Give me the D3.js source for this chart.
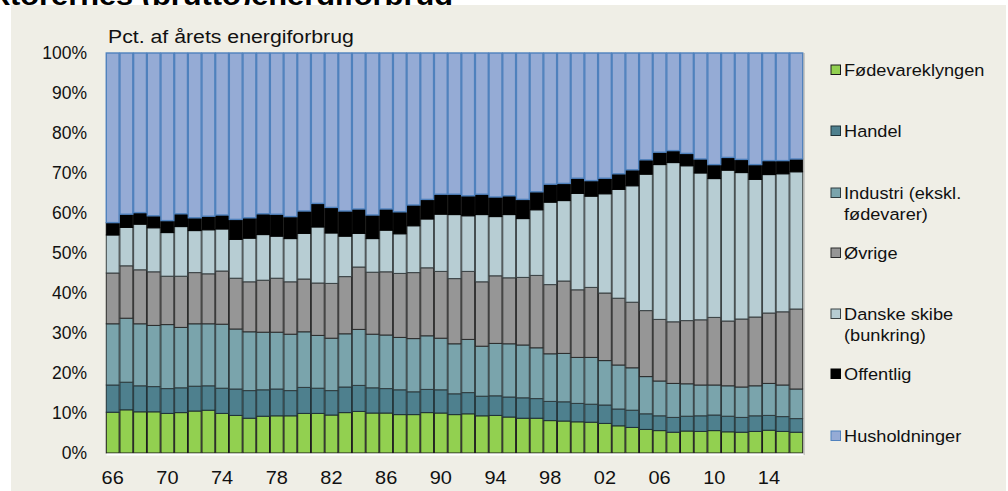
<!DOCTYPE html>
<html><head><meta charset="utf-8">
<script src="https://cdn.jsdelivr.net/npm/d3@7"></script>
<style>
html,body{margin:0;padding:0;background:#fff;}
svg{display:block;font-family:"Liberation Sans",Arial,sans-serif;}
</style></head>
<body>
<svg id="chart" width="1008" height="491"></svg>
<script>
const years = [1966,1967,1968,1969,1970,1971,1972,1973,1974,1975,1976,1977,1978,1979,1980,1981,1982,1983,1984,1985,1986,1987,1988,1989,1990,1991,1992,1993,1994,1995,1996,1997,1998,1999,2000,2001,2002,2003,2004,2005,2006,2007,2008,2009,2010,2011,2012,2013,2014,2015,2016];
const xTickYears = [1966,1970,1974,1978,1982,1986,1990,1994,1998,2002,2006,2010,2014];
const yTicks = [0,0.1,0.2,0.3,0.4,0.5,0.6,0.7,0.8,0.9,1];
const seriesNames = ["Fødevareklyngen","Handel","Industri (ekskl. fødevarer)","Øvrige","Danske skibe (bunkring)","Offentlig","Husholdninger"];

const foedevare = [10.2,10.8,10.3,10.3,9.9,10.1,10.5,10.7,9.9,9.4,8.7,9.2,9.3,9.3,9.9,9.9,9.5,10.1,10.4,10.0,10.0,9.6,9.6,10.1,10.0,9.6,9.8,9.3,9.4,9.0,8.7,8.7,8.1,8.0,7.8,7.7,7.4,6.8,6.4,5.9,5.6,5.2,5.5,5.4,5.6,5.3,5.2,5.4,5.7,5.4,5.2];
const handel = [6.8,6.9,6.5,6.3,6.2,6.2,6.2,6.1,6.3,6.6,6.9,6.6,6.7,6.3,6.5,6.3,6.1,6.4,6.5,6.3,6.1,6.2,5.7,5.8,5.8,5.2,5.3,4.9,4.9,5.0,5.1,4.9,4.8,4.8,4.6,4.5,4.6,4.2,4.3,3.9,3.7,3.7,3.7,3.9,3.9,3.9,3.7,3.9,3.7,3.7,3.4];
const industri = [15.3,16.0,15.5,15.3,16.0,15.1,15.6,15.5,16.0,15.0,14.7,14.4,14.2,14.1,13.9,13.2,13.1,13.3,14.0,13.4,13.4,13.1,13.3,13.4,12.9,12.5,13.3,12.5,13.1,13.3,13.2,12.7,11.9,12.1,11.5,11.7,11.1,11.0,10.6,9.3,8.7,8.5,8.1,7.7,7.5,7.6,7.6,7.5,8.0,7.9,7.4];
const oevrige = [12.7,13.1,13.5,13.4,12.1,12.8,12.8,12.5,13.3,12.7,12.5,13.0,13.5,13.1,13.2,13.1,13.7,14.3,15.6,15.5,15.8,16.0,16.5,17.0,16.7,16.3,17.0,16.1,16.9,16.5,16.9,18.1,17.3,18.1,16.9,17.5,16.9,16.7,16.4,16.5,15.4,15.4,15.8,16.3,16.9,16.2,17.0,17.2,17.6,18.3,20.0];
const skibe = [9.5,9.6,11.4,11.0,10.9,12.4,10.5,11.0,10.5,9.7,10.9,11.4,10.5,10.8,11.4,14.0,12.6,10.1,8.4,8.4,10.4,9.9,11.7,12.2,14.3,16.0,13.9,16.8,14.8,15.8,14.7,16.4,20.6,20.1,24.1,22.8,24.8,27.2,29.1,34.1,38.7,39.8,38.7,36.7,34.7,37.7,36.6,34.4,34.6,34.5,34.3];
const offentlig = [3.1,3.3,2.9,3.0,3.0,3.2,3.2,3.4,3.5,5.0,5.1,5.2,5.5,5.5,5.6,5.9,6.4,6.3,6.1,5.9,5.3,5.5,5.2,4.9,5.0,5.1,5.0,5.1,4.9,4.7,4.8,4.5,4.5,4.3,3.8,3.9,3.9,3.9,4.0,3.6,3.1,3.0,3.1,3.5,3.5,3.2,3.3,3.7,3.5,3.3,3.2];
const husholdninger = [42.4,40.3,39.9,40.7,41.9,40.2,41.2,40.8,40.5,41.6,41.2,40.2,40.3,40.9,39.5,37.6,38.6,39.5,39.0,40.5,39.0,39.7,38.0,36.6,35.3,35.3,35.7,35.3,36.0,35.7,36.6,34.7,32.8,32.6,31.3,31.9,31.3,30.2,29.2,26.7,24.8,24.4,25.1,26.5,27.9,26.1,26.6,27.9,26.9,26.9,26.5];

const seriesValues = [foedevare, handel, industri, oevrige, skibe, offentlig, husholdninger];
const fills   = ["#92d050","#4e808e","#7aa4ac","#969696","#b7cdd3","#000000","#95abd5"];
const strokes = ["#1a1a1a","#1f3238","#2e3b3e","#2a2a2a","#3a4244","#000000","#4f81bd"];

const rows = years.map((y,i) => {
  const r = {year:y};
  seriesNames.forEach((n,k) => r[n] = seriesValues[k][i]);
  return r;
});
const stacked = d3.stack().keys(seriesNames).offset(d3.stackOffsetExpand)(rows);

const svg = d3.select("#chart");
// title (mostly clipped above the panel, as in the reference)
svg.append("text").attr("transform","translate(453,5) scale(1.1,1)")
  .attr("text-anchor","end").attr("font-weight","bold").attr("font-size",28)
  .text("Figur 1. Sektorernes (brutto)energiforbrug");
// panel
svg.append("rect").attr("x",11).attr("y",5).attr("width",995).attr("height",486).attr("fill","#efeee6");

const L = 106, R = 803, T = 53, B = 453;
const x = d3.scaleBand().domain(years).range([L,R]).paddingInner(0.06).paddingOuter(0.02);
const y = d3.scaleLinear().domain([0,1]).range([B,T]);

const g = svg.append("g");
stacked.forEach((s,k) => {
  g.append("g").selectAll("rect").data(s).join("rect")
    .attr("x", d => x(d.data.year))
    .attr("width", x.bandwidth())
    .attr("y", d => y(d[1]))
    .attr("height", d => y(d[0]) - y(d[1]))
    .attr("fill", fills[k])
    .attr("stroke", strokes[k])
    .attr("stroke-width", k === 6 ? 1.4 : 1);
});
// right shadow edge
svg.append("line").attr("x1",R+1).attr("x2",R+1).attr("y1",T).attr("y2",B+2)
  .attr("stroke","#a0a0a0").attr("stroke-width",1);

// y axis
const yAxis = d3.axisLeft(y).tickValues(yTicks).tickFormat(d3.format(".0%")).tickSize(0).tickPadding(19);
const ya = svg.append("g").attr("transform",`translate(${L},0)`).call(yAxis);
ya.select(".domain").remove();
ya.selectAll("text").attr("font-size",17.5).attr("fill","#111")
  .attr("font-family","Liberation Sans, Arial, sans-serif");

// x axis
const xAxis = d3.axisBottom(x).tickValues(xTickYears).tickFormat(d => String(d).slice(2)).tickSize(0).tickPadding(18);
const xa = svg.append("g").attr("transform",`translate(0,${B})`).call(xAxis);
xa.select(".domain").attr("stroke","#ffffff").attr("stroke-width",2).attr("transform","translate(0,1)");
xa.selectAll("text").attr("font-size",19).attr("fill","#111")
  .attr("font-family","Liberation Sans, Arial, sans-serif")
  .attr("transform","scale(1.05,1)");

// subtitle
svg.append("text").attr("transform","translate(108,43) scale(1.12,1)")
  .attr("font-size",19).attr("fill","#111").text("Pct. af årets energiforbrug");

// legend
const legendY = [70,131,193,253,314,374,436];
const legendLines = [["Fødevareklyngen"],["Handel"],["Industri (ekskl.","fødevarer)"],["Øvrige"],["Danske skibe","(bunkring)"],["Offentlig"],["Husholdninger"]];
const lg = svg.append("g");
legendLines.forEach((lines,k) => {
  const cy = legendY[k];
  lg.append("rect").attr("x",831).attr("y",cy-5).attr("width",9.5).attr("height",9.5)
    .attr("fill",fills[k]).attr("stroke",strokes[k]).attr("stroke-width",1);
  lines.forEach((ln,j) => {
    lg.append("text").attr("transform",`translate(844,${cy+6+j*21}) scale(1.07,1)`)
      .attr("font-size",17).attr("fill","#111").text(ln);
  });
});
</script>
</body></html>
